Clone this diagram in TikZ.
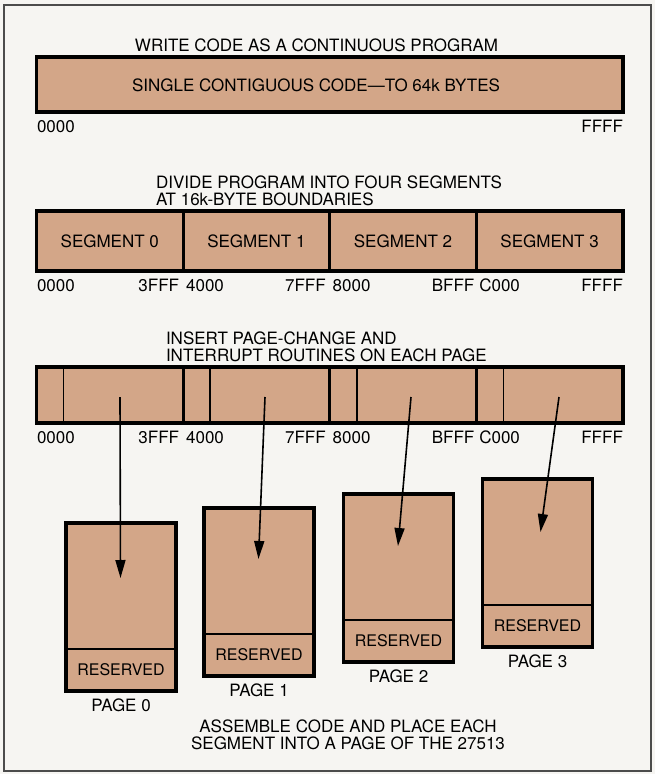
\documentclass[tikz,border=0pt]{standalone}
\usepackage{fontspec}
\setmainfont{TeX Gyre Heros}
\usetikzlibrary{positioning, arrows.meta}
\definecolor{clay}{RGB}{211,166,136}
\definecolor{paper}{RGB}{246,245,242}
\tikzset{x=1pt, y=-1pt, % one unit per pixel, y runs downwards
>={Triangle[length=18pt,width=10pt]}, % long narrow arrow heads
every node/.style={inner sep=0pt, outer sep=0pt, font=\fontsize{17}{17}\selectfont},
bar/.style={draw, line width=3.2pt, fill=clay, minimum width=146.6pt}, % one segment of a memory bar
pagebody/.style={draw, line width=2pt, fill=clay, minimum width=110pt, minimum height=126pt},
reserved/.style={draw, line width=2pt, fill=clay, minimum width=110pt, minimum height=42pt, font=\fontsize{16}{16}\selectfont},
pageedge/.style={draw, line width=3.2pt}, % outline round a whole page
divider/.style={line width=1.6pt},
move/.style={->, line width=1.6pt},
}

\begin{document}
\begin{tikzpicture}
  \fill[paper] (0,0) rectangle (655,774);
  \useasboundingbox (0,0) rectangle (655,774);
  \draw[line width=1.2pt, gray!60!black] (4,5) rectangle (651,771);

  % continuous program
  \node (t1) at (316.5,45.5) {WRITE CODE AS A CONTINUOUS PROGRAM};
  \node[bar, minimum width=586.5pt, minimum height=55pt] (code) at (329.75,84.5) {};
  \node (codetxt) at (316,85.5) {SINGLE CONTIGUOUS CODE---TO 64k BYTES};
  \node[below right=8pt and 0.5pt of code.south west] (c-a0) {0000};
  \node[below left=8pt and 0pt of code.south east] (c-a1) {FFFF};

  % four segments
  \node[anchor=west, align=left] (t2) at (156,190.5) {DIVIDE PROGRAM INTO FOUR SEGMENTS\\AT 16k-BYTE BOUNDARIES};
  \node[bar, minimum height=60pt, anchor=west] (seg0) at (36.5,241) {SEGMENT 0};
  \node[bar, minimum height=60pt, right=0pt of seg0] (seg1) {SEGMENT 1};
  \node[bar, minimum height=60pt, right=0pt of seg1] (seg2) {SEGMENT 2};
  \node[bar, minimum height=60pt, right=0pt of seg2] (seg3) {SEGMENT 3};

  % segments with page-change routines
  \node[anchor=west, align=left] (t3) at (166,346.5) {INSERT PAGE-CHANGE AND\\INTERRUPT ROUTINES ON EACH PAGE};
  \node[bar, minimum height=56pt, anchor=west] (blk0) at (36.5,395) {};
  \node[bar, minimum height=56pt, right=0pt of blk0] (blk1) {};
  \node[bar, minimum height=56pt, right=0pt of blk1] (blk2) {};
  \node[bar, minimum height=56pt, right=0pt of blk2] (blk3) {};
  \foreach \b in {blk0,blk1,blk2,blk3}
    \draw[divider] ([xshift=27pt]\b.north west) -- ([xshift=27pt]\b.south west);

  % addresses under both bars
  \foreach \r in {seg,blk} {
    \node[below right=8pt and 0.5pt of \r0.south west] (\r-a0) {0000};
    \node[below left=8pt and 4pt of \r0.south east] (\r-a1) {3FFF};
    \node[below right=8pt and 3pt of \r1.south west] (\r-a2) {4000};
    \node[below left=8pt and 4pt of \r1.south east] (\r-a3) {7FFF};
    \node[below right=8pt and 3pt of \r2.south west] (\r-a4) {8000};
    \node[below left=8pt and 2pt of \r2.south east] (\r-a5) {BFFF};
    \node[below right=8pt and 3pt of \r3.south west] (\r-a6) {C000};
    \node[below left=8pt and 0pt of \r3.south east] (\r-a7) {FFFF};
  }

  % pages of the 27513
  \node[pagebody, anchor=north] (pb0) at (121,523) {};
  \node[reserved, below=0pt of pb0] (pr0) {RESERVED};
  \node[below=8pt of pr0] (pl0) {PAGE 0};
  \node[pagebody, anchor=north] (pb1) at (259,508) {};
  \node[reserved, below=0pt of pb1] (pr1) {RESERVED};
  \node[below=8pt of pr1] (pl1) {PAGE 1};
  \node[pagebody, anchor=north] (pb2) at (398.5,494) {};
  \node[reserved, below=0pt of pb2] (pr2) {RESERVED};
  \node[below=8pt of pr2] (pl2) {PAGE 2};
  \node[pagebody, anchor=north] (pb3) at (537.5,479) {};
  \node[reserved, below=0pt of pb3] (pr3) {RESERVED};
  \node[below=8pt of pr3] (pl3) {PAGE 3};
  \foreach \i in {0,...,3}
    \draw[pageedge] (pb\i.north west) rectangle (pr\i.south east);

  % each segment goes into a page
  \coordinate (s0) at (120,397);   \coordinate (e0) at (120.5,578);
  \coordinate (s1) at (265,397);   \coordinate (e1) at (258.5,559);
  \coordinate (s2) at (411,397);   \coordinate (e2) at (398,546);
  \coordinate (s3) at (559,397);   \coordinate (e3) at (540.5,532);
  \draw[move] (s0) -- (e0);
  \draw[move] (s1) -- (e1);
  \draw[move] (s2) -- (e2);
  \draw[move] (s3) -- (e3);

  \node[align=center] (t4) at (348,735) {ASSEMBLE CODE AND PLACE EACH\\SEGMENT INTO A PAGE OF THE 27513};
\end{tikzpicture}
\end{document}
